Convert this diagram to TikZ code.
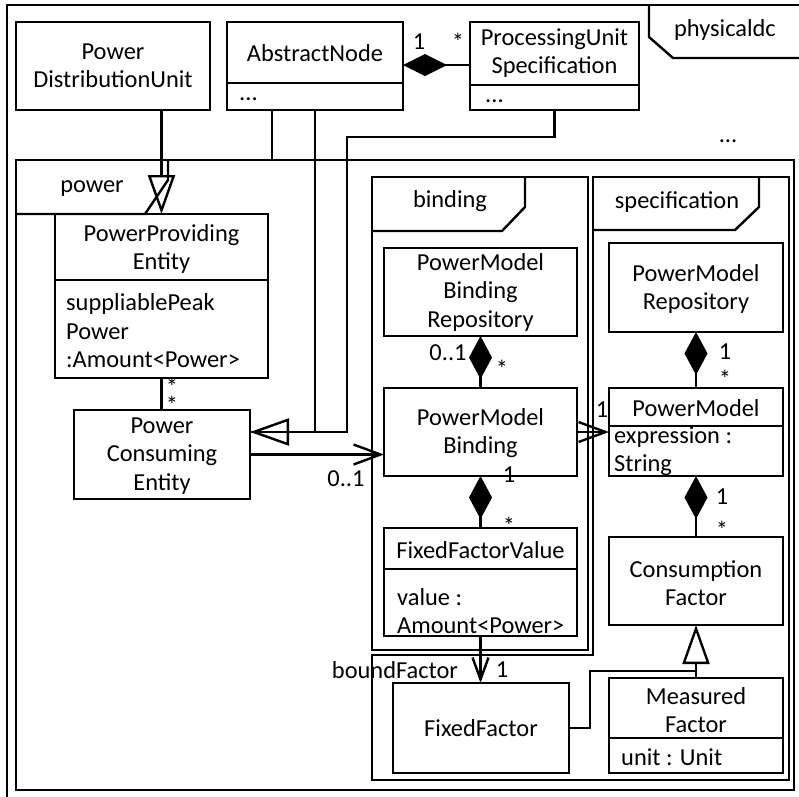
\documentclass[tikz,border=0pt]{standalone}
\usepackage{fontspec}
\setmainfont{Carlito}
\usetikzlibrary{arrows.meta}

\tikzset{
  umlline/.style={line width=2.4pt, line join=miter},
  cls/.style={draw, line width=2.4pt, anchor=north west, inner sep=0pt, outer sep=0pt},
  lbl/.style={font=\fontsize{24.4}{28.5}\selectfont, inner sep=0pt, align=center},
  attr/.style={lbl, anchor=west, align=left},
  gen/.style={-{Triangle[open, length=39pt, width=27pt]}},
  comp/.style={{Diamond[length=43pt, width=23pt]}-},
  nav/.style={-{Straight Barb[length=27pt, width=20pt]}},
  navshort/.style={-{Straight Barb[length=22pt, width=16pt]}},
}

% class box: name, x1, y1, x2, y2 (top-left and bottom-right corners)
\newcommand\umlbox[5]{\node[cls, minimum width={#4pt-#2pt}, minimum height={#5pt-#3pt}] (#1) at (#2,#3) {};}
% compartment divider inside a box at height #2
\newcommand\umldiv[2]{\draw[umlline] (#1.west |- 0,#2) -- (#1.east |- 0,#2);}

\begin{document}
\begin{tikzpicture}[x=1pt, y=-1pt, every path/.style={umlline}]
\useasboundingbox (0,0) rectangle (799,796);

% outer frame and its name tab
\draw (7,812) -- (7,5) -- (812,5);
\draw (649,5) -- (649,37) -- (673,58) -- (812,58);
\node[lbl] (physlbl) at (725,30) {physicaldc};
\node[lbl] (moredots) at (728,141) {...};

% package power
\draw (16,160) rectangle (794,790);
\draw (168,160) -- (168,180) -- (145,214) -- (16,214);
\node[lbl] (powerlbl) at (92,189) {power};

% package binding
\draw (372,177) rectangle (588,650);
\draw (525,177) -- (525,207) -- (502,231) -- (372,231);
\node[lbl] (bindlbl) at (450,201) {binding};

% package specification
\draw (593,177) -- (789,177) -- (789,780) -- (372,780) -- (372,655) -- (593,655) -- cycle;
\draw (759,177) -- (759,207) -- (735,230) -- (593,230);
\node[lbl] (speclbl) at (677,202) {specification};

% classes
\umlbox{pdu}{16}{22}{210}{110}
\node[lbl] (pdut) at (113,66) {Power\\DistributionUnit};

\umlbox{an}{227}{22}{403}{110}
\umldiv{an}{83}
\node[lbl] (ant) at (315,53) {AbstractNode};
\node[attr] (ana) at (238,99) {...};

\umlbox{pus}{470}{22}{639}{110}
\umldiv{pus}{85}
\node[lbl] (pust) at (554.5,53) {ProcessingUnit\\Specification};
\node[attr] (pusa) at (484,101) {...};

\umlbox{ppe}{55}{214}{268}{378}
\umldiv{ppe}{280}
\node[lbl] (ppet) at (161.5,249) {PowerProviding\\Entity};
\node[attr] (ppea) at (65,331) {suppliablePeak\\Power\\:Amount<Power>};

\umlbox{pce}{74}{410}{250}{499}
\node[lbl] (pcet) at (162,456) {Power\\Consuming\\Entity};

\umlbox{pmbr}{384}{248}{577}{336}
\node[lbl] (pmbrt) at (480.5,292) {PowerModel\\Binding\\Repository};

\umlbox{pmb}{384}{388}{577}{476}
\node[lbl] (pmbt) at (480.5,433) {PowerModel\\Binding};

\umlbox{ffv}{384}{528}{577}{636}
\umldiv{ffv}{569}
\node[lbl] (ffvt) at (480.5,550) {FixedFactorValue};
\node[attr] (ffva) at (396,611) {value :\\Amount<Power>};

\umlbox{ff}{393}{683}{569}{773}
\node[lbl] (fft) at (481,728) {FixedFactor};

\umlbox{pmr}{609}{243}{783}{332}
\node[lbl] (pmrt) at (696,289) {PowerModel\\Repository};

\umlbox{pm}{609}{388}{783}{476}
\umldiv{pm}{426}
\node[lbl] (pmt) at (696,408) {PowerModel};
\node[attr] (pma) at (613,451) {expression :\\String};

\umlbox{cf}{609}{537}{783}{625}
\node[lbl] (cft) at (696,583) {Consumption\\Factor};

\umlbox{mf}{609}{678}{783}{773}
\umldiv{mf}{738}
\node[lbl] (mft) at (696,710) {Measured\\Factor};
\node[attr] (mfa) at (620,757) {unit : Unit};

% bend points
\coordinate (antop) at (272,160);
\coordinate (gentip) at (250,432);
\coordinate (pusbend) at (347,137);
\coordinate (ffbend) at (590,671);

% generalizations
\draw[gen] (pdu.south -| ppe.north) -- (ppe.north);
\draw (antop |- an.south) -- (antop);
\draw (pus.south) -- (pus.south |- pusbend) -- (pusbend) -- (pusbend |- gentip) -- (gentip);
\draw[gen] (an.south) |- (gentip);
\draw[gen] (mf.north) -- (cf.south);
\draw (ff.east) -| (ffbend) -- (ffbend -| mf.north);

% compositions
\draw[{Diamond[length=44pt, width=22pt]}-] (an.east |- 0,65) -- (pus.west |- 0,65);
\draw[comp] (pmbr.south) -- (pmb.north);
\draw[comp] (pmb.south) -- (ffv.north);
\draw[comp] (pmr.south) -- (pm.north);
\draw[comp] (pm.south) -- (cf.north);

% associations
\draw (ppe.south) -- (ppe.south |- pce.north);
\draw[nav] (pce.east) -- (pce.east -| pmb.west);
\draw[nav] (pmb.east) -- (pm.west |- pmb.east);
\draw[navshort] (ffv.south) -- (ffv.south |- ff.north);

% multiplicities and role names
\node[lbl] (m1) at (419,42) {1};
\node[lbl] (m2) at (458,42) {*};
\node[lbl, font=\fontsize{24.4}{17}\selectfont] (m3) at (172,396) {*\\*};
\node[lbl] (m5) at (346,479) {0..1};
\node[lbl] (m6) at (448,353) {0..1};
\node[lbl] (m7) at (502,369) {*};
\node[lbl] (m8) at (509,475) {1};
\node[lbl] (m9) at (509,526) {*};
\node[lbl] (m10) at (725,352) {1};
\node[lbl] (m11) at (725,379) {*};
\node[lbl] (m12) at (602,410) {1};
\node[lbl] (m13) at (722,497) {1};
\node[lbl] (m14) at (722,530) {*};
\node[lbl] (role) at (395,670) {boundFactor};
\node[lbl] (m15) at (502,670) {1};
\end{tikzpicture}
\end{document}
